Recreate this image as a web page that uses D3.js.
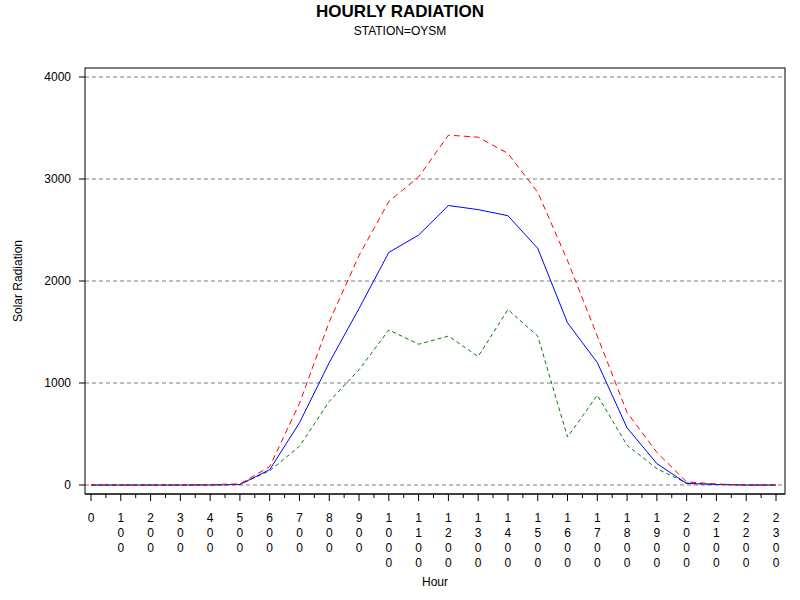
<!DOCTYPE html>
<html><head><meta charset="utf-8">
<script src="https://cdn.jsdelivr.net/npm/d3@7"></script>
<style>body{margin:0;background:#fff}</style>
</head><body><div id="chart"></div>
<script>
var hours = d3.range(0, 24);
var tickLabels = hours.map(function (h) { return String(h * 100); });
var blueVals = [0,0,0,0,0,5,150,610,1200,1730,2280,2450,2740,2700,2640,2320,1590,1200,560,210,15,5,0,0];
var redVals = [0,0,0,0,5,10,180,800,1600,2250,2780,3020,3430,3410,3250,2870,2200,1460,710,320,30,10,0,0];
var greenVals = [0,0,0,0,0,5,140,380,820,1130,1520,1380,1460,1260,1720,1460,470,880,390,160,20,5,0,0];
var yTicks = [0, 1000, 2000, 3000, 4000];

var svg = d3.select('#chart').append('svg').attr('width', 800).attr('height', 600)
	.style('font-family', 'Arial, "Liberation Sans", sans-serif');

var x = d3.scaleLinear().domain([0, 23]).range([91, 776]);
var y = d3.scaleLinear().domain([0, 4000]).range([485, 77]);

svg.append('text').attr('x', 400).attr('y', 17).attr('text-anchor', 'middle')
	.style('font-size', '17px').style('font-weight', 'bold').text('HOURLY RADIATION');
svg.append('text').attr('x', 400).attr('y', 35).attr('text-anchor', 'middle')
	.style('font-size', '12px').text('STATION=OYSM');

// grid
svg.selectAll('.grid').data(yTicks).enter().append('line')
	.attr('x1', 85).attr('x2', 785).attr('y1', d => y(d)).attr('y2', d => y(d))
	.attr('stroke', '#808080').attr('stroke-dasharray', '4,3');

svg.append('rect').attr('x', 85).attr('y', 68).attr('width', 700).attr('height', 426)
	.attr('fill', 'none').attr('stroke', '#000');

// y axis
svg.selectAll('.yt').data(yTicks).enter().append('line')
	.attr('x1', 79).attr('x2', 85).attr('y1', d => y(d)).attr('y2', d => y(d)).attr('stroke', '#000');
svg.selectAll('.yl').data(yTicks).enter().append('text')
	.attr('x', 71).attr('y', d => y(d) + 4).attr('text-anchor', 'end')
	.style('font-size', '12px').text(d => d);
svg.append('text').attr('transform', 'translate(22,281) rotate(-90)').attr('text-anchor', 'middle')
	.style('font-size', '12px').text('Solar Radiation');

// x axis
svg.append('line').attr('x1', 85).attr('x2', 785).attr('y1', 494).attr('y2', 494).attr('stroke', '#000');
svg.selectAll('.xt').data(hours).enter().append('line')
	.attr('x1', d => x(d)).attr('x2', d => x(d)).attr('y1', 494).attr('y2', 501).attr('stroke', '#000');
svg.selectAll('.xm').data(hours.slice(0, 23)).enter().append('line')
	.attr('x1', d => x(d + 0.5)).attr('x2', d => x(d + 0.5)).attr('y1', 494).attr('y2', 498).attr('stroke', '#000');
var xl = svg.selectAll('.xl').data(hours).enter().append('text')
	.attr('text-anchor', 'middle').style('font-size', '12px');
xl.each(function (d, i) {
	var t = d3.select(this);
	tickLabels[i].split('').forEach(function (c, j) {
		t.append('tspan').attr('x', x(d)).attr('y', 522 + j * 15).text(c);
	});
});
svg.append('text').attr('x', 435).attr('y', 586).attr('text-anchor', 'middle')
	.style('font-size', '12px').text('Hour');

var line = d3.line().x((d, i) => x(hours[i])).y(d => y(d));
svg.append('path').datum(greenVals).attr('d', line).attr('fill', 'none')
	.attr('stroke', 'green').attr('stroke-dasharray', '4,3');
svg.append('path').datum(blueVals).attr('d', line).attr('fill', 'none').attr('stroke', 'blue');
svg.append('path').datum(redVals).attr('d', line).attr('fill', 'none')
	.attr('stroke', 'red').attr('stroke-dasharray', '6,4');
</script></body></html>
